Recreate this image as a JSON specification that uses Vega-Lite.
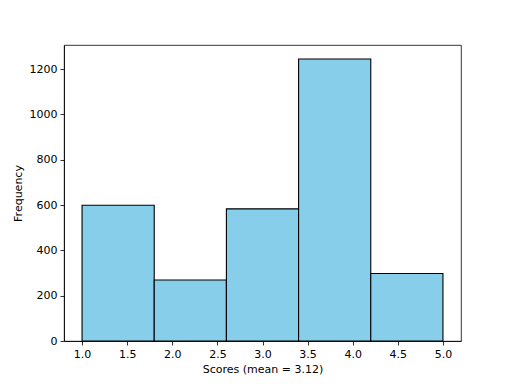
{
  "$schema": "https://vega.github.io/schema/vega-lite/v6.json",
  "width": 397,
  "height": 296,
  "autosize": "none",
  "padding": {"left": 64, "top": 45, "right": 51, "bottom": 43},
  "background": "white",
  "config": {
    "view": {"stroke": "black", "strokeWidth": 0.8},
    "font": "DejaVu Sans",
    "axis": {
      "labelFont": "DejaVu Sans",
      "titleFont": "DejaVu Sans",
      "labelFontSize": 11,
      "titleFontSize": 11,
      "titleFontWeight": "normal",
      "labelColor": "black",
      "titleColor": "black",
      "tickColor": "black",
      "tickSize": 4,
      "tickWidth": 0.8,
      "domainColor": "black",
      "domainWidth": 0.8,
      "labelPadding": 3,
      "grid": false
    }
  },
  "data": {
    "values": [
      {"bin_start": 1.0, "bin_end": 1.8, "count": 599},
      {"bin_start": 1.8, "bin_end": 2.6, "count": 269},
      {"bin_start": 2.6, "bin_end": 3.4, "count": 583},
      {"bin_start": 3.4, "bin_end": 4.2, "count": 1244},
      {"bin_start": 4.2, "bin_end": 5.0, "count": 298}
    ]
  },
  "mark": {"type": "rect", "fill": "#87CEEB", "stroke": "black", "strokeWidth": 1.1},
  "encoding": {
    "x": {
      "field": "bin_start",
      "type": "quantitative",
      "scale": {"domain": [0.8, 5.2], "nice": false, "zero": false},
      "axis": {"values": [1.0, 1.5, 2.0, 2.5, 3.0, 3.5, 4.0, 4.5, 5.0], "format": ".1f", "title": "Scores (mean = 3.12)", "titlePadding": 4, "labelFlush": false}
    },
    "x2": {"field": "bin_end"},
    "y": {
      "field": "count",
      "type": "quantitative",
      "scale": {"domain": [0, 1306], "nice": false},
      "axis": {"values": [0, 200, 400, 600, 800, 1000, 1200], "format": "d", "title": "Frequency", "titlePadding": 6, "labelFlush": false}
    },
    "y2": {"datum": 0}
  }
}
